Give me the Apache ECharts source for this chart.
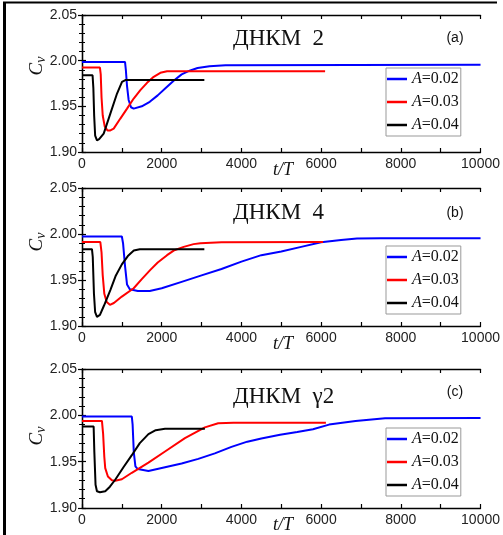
<!DOCTYPE html>
<html><head><meta charset="utf-8">
<script src="https://cdn.jsdelivr.net/npm/echarts@6/dist/echarts.min.js"></script>
<style>html,body{margin:0;padding:0;background:#fff}#c{width:503px;height:535px}</style>
</head><body><div id="c"></div>
<script>
// ---- data ----
const seriesNames = ['A=0.02', 'A=0.03', 'A=0.04'];
const seriesColors = ['#0000ff', '#ff0000', '#000000'];
const panelTitles = ['ДНКМ  2', 'ДНКМ  4', 'ДНКМ  γ2'];
const panelLetters = ['(a)', '(b)', '(c)'];
const yTicks = [1.90, 1.95, 2.00, 2.05];
const xTicks = [0, 2000, 4000, 6000, 8000, 10000];

// panel (a)
const a_002 = [[0,1.9985],[1080,1.9985],[1100,1.99],[1130,1.972],[1170,1.957],[1230,1.949],[1297,1.9475],[1500,1.950],[1700,1.955],[1900,1.962],[2100,1.970],[2300,1.978],[2500,1.985],[2700,1.989],[2900,1.992],[3200,1.994],[3600,1.995],[10000,1.9955]];
const a_003 = [[0,1.9925],[450,1.9925],[470,1.985],[490,1.96],[520,1.94],[570,1.928],[640,1.9235],[700,1.9235],[795,1.9256],[962,1.9366],[1130,1.9475],[1297,1.9585],[1464,1.9677],[1632,1.9757],[1799,1.9823],[1966,1.9867],[2134,1.9885],[6100,1.9885]];
const a_004 = [[0,1.984],[265,1.984],[285,1.97],[305,1.94],[330,1.918],[376,1.9128],[430,1.914],[544,1.9201],[711,1.942],[879,1.964],[1004,1.9768],[1088,1.9787],[3070,1.9787]];

// panel (b)
const b_002 = [[0,1.9973],[1000,1.9973],[1030,1.99],[1080,1.965],[1130,1.945],[1200,1.940],[1400,1.938],[1700,1.938],[2000,1.941],[2500,1.948],[3000,1.955],[3500,1.962],[4000,1.970],[4500,1.977],[5000,1.981],[5500,1.986],[6000,1.991],[6500,1.9935],[6900,1.995],[7500,1.9955],[10000,1.9955]];
const b_003 = [[0,1.9912],[460,1.9912],[490,1.98],[520,1.955],[560,1.935],[620,1.926],[700,1.923],[800,1.925],[1000,1.932],[1297,1.941],[1500,1.951],[1715,1.961],[1900,1.969],[2134,1.977],[2300,1.982],[2552,1.986],[2800,1.989],[2971,1.990],[3500,1.991],[6050,1.9912]];
const b_004 = [[0,1.9835],[250,1.9835],[270,1.975],[300,1.935],[330,1.915],[376,1.910],[450,1.912],[550,1.922],[711,1.939],[850,1.955],[1000,1.967],[1150,1.976],[1300,1.982],[1450,1.9835],[3070,1.9835]];

// panel (c)
const c_002 = [[0,1.9987],[1250,1.9987],[1270,1.99],[1300,1.96],[1340,1.945],[1400,1.942],[1667,1.940],[2083,1.944],[2500,1.948],[2917,1.953],[3333,1.959],[3750,1.966],[4148,1.9716],[4500,1.975],[4970,1.979],[5400,1.982],[5795,1.985],[6200,1.990],[6864,1.9939],[7605,1.9968],[10000,1.997]];
const c_003 = [[0,1.994],[500,1.994],[530,1.98],[560,1.955],[583,1.943],[650,1.934],[750,1.930],[833,1.9294],[1000,1.931],[1250,1.938],[1667,1.949],[2083,1.961],[2583,1.9754],[3083,1.987],[3417,1.9915],[3800,1.992],[6120,1.992]];
const c_004 = [[0,1.988],[292,1.988],[310,1.96],[340,1.925],[375,1.918],[450,1.917],[583,1.918],[700,1.923],[833,1.9305],[1040,1.944],[1250,1.957],[1450,1.970],[1667,1.9797],[1850,1.984],[2083,1.9854],[3083,1.9855]];

const panelData = [[a_002, a_003, a_004], [b_002, b_003, b_004], [c_002, c_003, c_004]];

// ---- layout ----
const grids = [
  {left: 82, top: 15, width: 404, height: 137},
  {left: 82, top: 188, width: 403, height: 138},
  {left: 82, top: 369, width: 405, height: 139}
];
const legendTops = [68, 246, 428];
const titleY = [40, 214, 398];
const letterY = [38, 213, 392];
const xNameY = [170, 344, 525];
const yNameY = [66, 242, 436];

const chart = echarts.init(document.getElementById('c'), null, {renderer: 'canvas'});
const axisLine = {show: true, lineStyle: {color: '#000', width: 1.3}};
const labelStyle = {fontFamily: 'Liberation Sans, Arial', fontSize: 14, color: '#222'};

const xAxes = [], yAxes = [], series = [], legends = [], graphics = [];
grids.forEach((g, gi) => {
  ['bottom', 'top'].forEach((pos) => {
    xAxes.push({
      gridIndex: gi, type: 'value', position: pos, min: xTicks[0], max: xTicks[xTicks.length - 1], interval: 2000,
      axisLine, axisTick: {show: true, inside: true, length: 4, lineStyle: {color: '#000', width: 1.2}},
      minorTick: {show: true, splitNumber: 2, length: 4, lineStyle: {color: '#000', width: 1.2}},
      axisLabel: pos === 'bottom' ? Object.assign({show: true, margin: 5, formatter: v => String(v)}, labelStyle) : {show: false},
      splitLine: {show: false}
    });
  });
  ['left', 'right'].forEach((pos) => {
    yAxes.push({
      gridIndex: gi, type: 'value', position: pos, min: yTicks[0], max: yTicks[yTicks.length - 1], interval: 0.05,
      axisLine, axisTick: {show: true, inside: true, length: 4, lineStyle: {color: '#000', width: 1.2}},
      minorTick: {show: true, splitNumber: 5, length: 3, lineStyle: {color: '#000', width: 1}},
      axisLabel: pos === 'left' ? Object.assign({show: true, margin: 5, formatter: v => v.toFixed(2)}, labelStyle) : {show: false},
      splitLine: {show: false}
    });
  });
  panelData[gi].forEach((d, si) => {
    series.push({
      type: 'line', name: seriesNames[si], xAxisIndex: gi * 2, yAxisIndex: gi * 2,
      data: d, showSymbol: false, symbol: 'none', smooth: false,
      lineStyle: {color: seriesColors[si], width: 2}, itemStyle: {color: seriesColors[si]},
      z: 3 + si
    });
  });
  legends.push({
    data: seriesNames, orient: 'vertical', left: 386, top: legendTops[gi],
    icon: 'rect', itemWidth: 20, itemHeight: 2.5, itemGap: 5,
    padding: [2, 2, 2, 1], borderColor: '#999', borderWidth: 1, backgroundColor: '#fff',
    selectedMode: false,
    formatter: n => '{i|A}' + n.slice(1),
    textStyle: {fontFamily: 'Liberation Serif', fontSize: 16, color: '#111', lineHeight: 18,
      rich: {i: {fontFamily: 'Liberation Serif', fontStyle: 'italic', fontSize: 16, color: '#111', lineHeight: 18}}}
  });
  graphics.push({type: 'text', left: 233, top: titleY[gi] - 13,
    style: {text: panelTitles[gi], font: '23px "Liberation Serif"', fill: '#111'}});
  graphics.push({type: 'text', x: 455, y: letterY[gi],
    style: {text: panelLetters[gi], font: '14px "Liberation Sans"', fill: '#111', align: 'center', verticalAlign: 'middle'}});
  graphics.push({type: 'text', x: 283, y: xNameY[gi],
    style: {text: 't/T', font: 'italic 18px "Liberation Serif"', fill: '#111', align: 'center', verticalAlign: 'middle'}});
  graphics.push({type: 'text', x: 37, y: yNameY[gi], rotation: Math.PI / 2,
    style: {text: '{c|C}{v|v}', align: 'center', verticalAlign: 'middle',
      rich: {c: {font: 'italic 19px "Liberation Serif"', fill: '#111'},
             v: {font: 'italic 14px "Liberation Serif"', fill: '#111', padding: [8, 0, 0, 0]}}}});
});
graphics.push({type: 'line', shape: {x1: 3, y1: 2.5, x2: 497, y2: 2.5}, style: {stroke: '#000', lineWidth: 2}});
graphics.push({type: 'line', shape: {x1: 4.5, y1: 2, x2: 4.5, y2: 535}, style: {stroke: '#000', lineWidth: 3}});

chart.setOption({
  animation: false,
  backgroundColor: '#fff',
  grid: grids.map(g => Object.assign({containLabel: false}, g)),
  xAxis: xAxes, yAxis: yAxes, series, legend: legends, graphic: graphics
});
</script></body></html>
